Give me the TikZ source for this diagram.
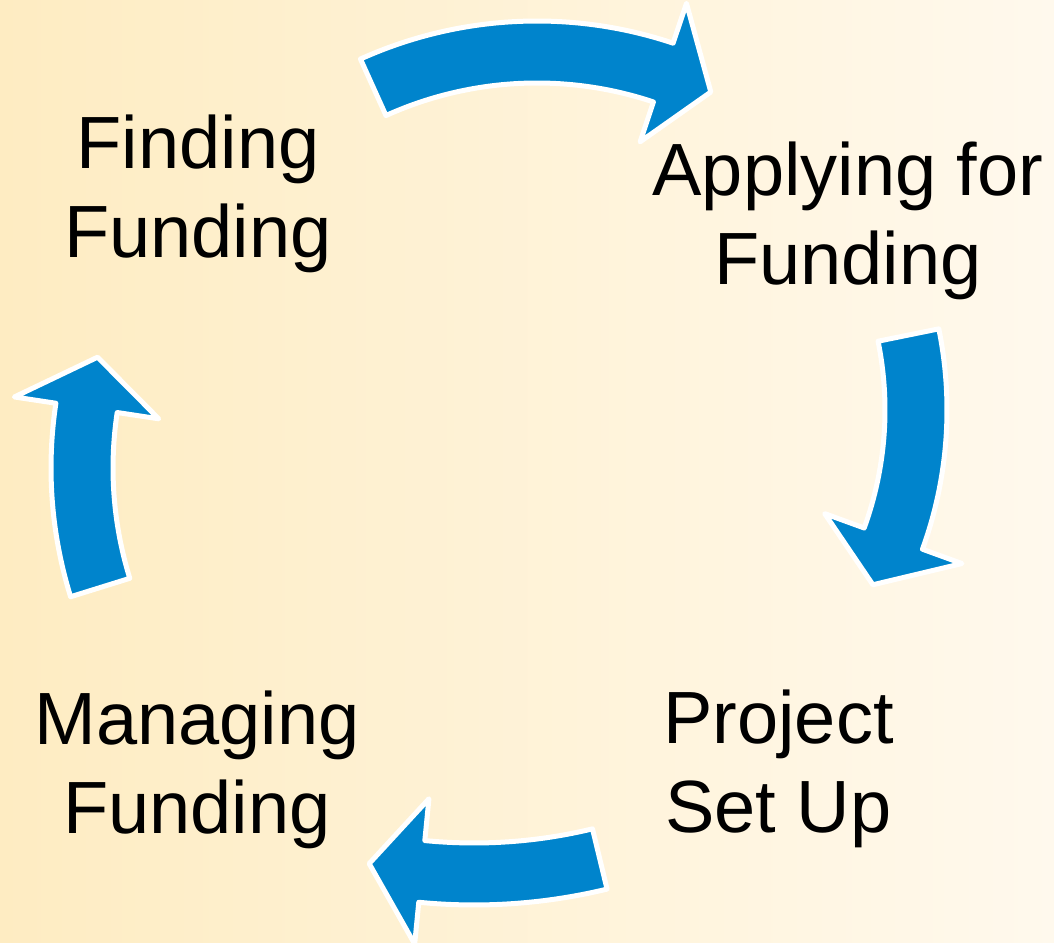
\documentclass[tikz,border=0pt]{standalone}
\usepackage{fontspec}
\setmainfont{Liberation Sans}
\usepackage{tikz}

\definecolor{arrowblue}{RGB}{0,132,204}
\definecolor{bgleft}{RGB}{254,236,194}
\definecolor{bgright}{RGB}{255,249,237}

\tikzset{
  cyclearrow/.style={fill=arrowblue, draw=white, line width=3.75pt, line join=round},
  stagetext/.style={align=center, inner sep=0pt, font=\fontsize{55.5}{66.75}\selectfont}
}

% curved block arrow: center, mid radius, tail angle, head angle, tip angle
\newcommand{\cyclearrow}[5]{%
  \filldraw[cyclearrow, shift={(#1)}]
    ({#3}:{#2+31}) arc[start angle={#3}, end angle={#4}, radius={#2+31}]
    -- ({#4}:{#2+73}) -- ({#5}:{#2}) -- ({#4}:{#2-73}) -- ({#4}:{#2-31})
    arc[start angle={#4}, end angle={#3}, radius={#2-31}] -- cycle;
}

\begin{document}
\begin{tikzpicture}[x=0.75pt, y=0.75pt]
\useasboundingbox (0,0) rectangle (1054,943);
\shade[left color=bgleft, right color=bgright] (0,0) rectangle (1054,943);

% arrows
\cyclearrow{537,493}{398}{114.3}{71.5}{64.1}
\cyclearrow{540,533}{376}{11.5}{-20}{-27.7}
\cyclearrow{474,604}{535}{-76.4}{-95.6}{-101.3}
\cyclearrow{484,475}{402}{197.3}{171.4}{164}

% stages
\node[stagetext] (find) at (198,749.6) {Finding\\Funding};
\node[stagetext] (apply) at (848,722.6) {Applying for\\Funding};
\node[stagetext] (setup) at (778.5,174.5) {Project\\Set Up};
\node[stagetext] (manage) at (197,173) {Managing\\Funding};
\end{tikzpicture}
\end{document}
